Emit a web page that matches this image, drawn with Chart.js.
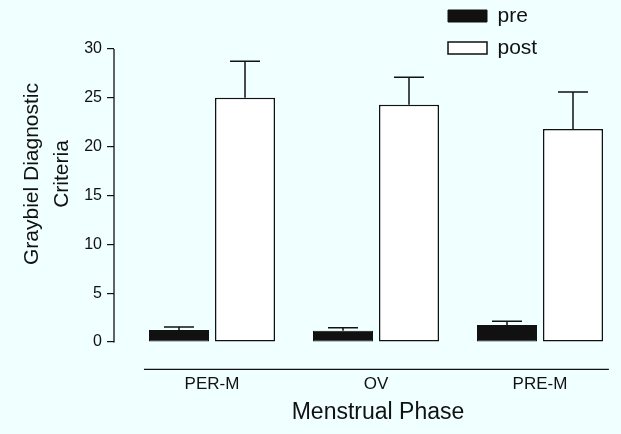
<!DOCTYPE html>
<html>
<head>
<meta charset="utf-8">
<script src="https://cdn.jsdelivr.net/npm/chart.js@4.4.1/dist/chart.umd.min.js"></script>
<style>
  html, body { margin: 0; padding: 0; background: #f0ffff; overflow: hidden; }
  /* canvas runs 21px past the window so the x title centres like the original */
  #wrap { width: 642px; height: 434px; }
</style>
</head>
<body>
<div id="wrap"><canvas id="barChart"></canvas></div>
<script>
// data
const phases = ['PER-M', 'OV', 'PRE-M'];
const preMeans = [1.23, 1.16, 1.74];
const preErr = [0.31, 0.30, 0.38];
const postMeans = [25.0, 24.3, 21.8];
const postErr = [3.75, 2.8, 3.8];
const yTicks = [0, 5, 10, 15, 20, 25, 30];

const ink = '#111111';
const FONT = "'Liberation Sans', Arial, sans-serif";

// page background (scan tint)
const background = {
    id: 'background',
    beforeDraw(chart) {
        const ctx = chart.ctx;
        ctx.save();
        ctx.fillStyle = '#f0ffff';
        ctx.fillRect(0, 0, chart.width, chart.height);
        ctx.restore();
    }
};

// upward error bars with caps
const errorBars = {
    id: 'errorBars',
    afterDatasetsDraw(chart) {
        const ctx = chart.ctx;
        const yScale = chart.scales.y;
        ctx.save();
        ctx.strokeStyle = ink;
        ctx.lineWidth = 1.5;
        chart.data.datasets.forEach((ds, d) => {
            chart.getDatasetMeta(d).data.forEach((bar, i) => {
                const mean = ds.data[i].y;
                const y0 = yScale.getPixelForValue(mean);
                const y1 = yScale.getPixelForValue(mean + ds.errors[i]);
                ctx.beginPath();
                ctx.moveTo(bar.x, y0);
                ctx.lineTo(bar.x, y1);
                ctx.moveTo(bar.x - 15, y1);
                ctx.lineTo(bar.x + 15, y1);
                ctx.stroke();
            });
        });
        ctx.restore();
    }
};

// y axis line only from 0 to 30, detached x axis line below the bars
const axisLines = {
    id: 'axisLines',
    afterDraw(chart) {
        const ctx = chart.ctx;
        const x = chart.scales.x, y = chart.scales.y;
        const area = chart.chartArea;
        ctx.save();
        ctx.strokeStyle = ink;
        ctx.lineWidth = 1.3;
        ctx.beginPath();
        ctx.moveTo(area.left, y.getPixelForValue(0) + 0.5);
        ctx.lineTo(area.left, y.getPixelForValue(yTicks[yTicks.length - 1]));
        const base = y.getPixelForValue(-2.8);
        ctx.moveTo(x.getPixelForValue(-0.415), base);
        ctx.lineTo(x.getPixelForValue(2.42), base);
        ctx.stroke();
        ctx.restore();
    }
};

// stacked legend in the top right corner
const legendSpot = {
    id: 'legendSpot',
    afterLayout(chart) {
        const lg = chart.legend;
        lg.left = 437; lg.right = 621;
        lg.top = -5.5; lg.bottom = 90;
        lg.width = lg.right - lg.left;
        lg.height = lg.bottom - lg.top;
    }
};

new Chart(document.getElementById('barChart'), {
    type: 'bar',
    data: {
        datasets: [
            {
                label: 'pre',
                data: phases.map((p, i) => ({ x: i, y: preMeans[i] })),
                errors: preErr,
                backgroundColor: ink,
                borderColor: ink,
                borderWidth: 1,
                borderSkipped: false
            },
            {
                label: 'post',
                data: phases.map((p, i) => ({ x: i, y: postMeans[i] })),
                errors: postErr,
                backgroundColor: '#ffffff',
                borderColor: ink,
                borderWidth: 1.5,
                borderSkipped: false
            }
        ]
    },
    options: {
        responsive: true,
        maintainAspectRatio: false,
        animation: false,
        categoryPercentage: 0.805,
        barPercentage: 0.909,
        layout: { padding: { top: 6, left: 0, right: 0, bottom: 0 } },
        plugins: {
            tooltip: { enabled: false },
            legend: {
                position: 'chartArea',
                align: 'start',
                labels: {
                    font: { family: FONT, size: 21 },
                    color: ink,
                    boxWidth: 39,
                    boxHeight: 12,
                    padding: 11
                }
            }
        },
        scales: {
            x: {
                type: 'linear',
                offset: false,
                min: -0.5976,
                max: 2.622,
                grid: { display: false, drawTicks: false, offset: false },
                border: { display: false },
                afterBuildTicks: s => { s.ticks = phases.map((p, i) => ({ value: i })); },
                afterFit: s => { s.height = 92; s.paddingLeft = 0; s.paddingRight = 0; },
                ticks: {
                    autoSkip: false,
                    maxRotation: 0,
                    padding: 32,
                    color: ink,
                    font: { family: FONT, size: 17 },
                    callback: v => phases[v]
                },
                title: {
                    display: true,
                    text: 'Menstrual Phase',
                    color: ink,
                    font: { family: FONT, size: 23 },
                    padding: { top: 0, bottom: 8 }
                }
            },
            y: {
                min: 0,
                max: 34.4,
                grid: { drawOnChartArea: false, drawTicks: true, tickLength: 7, color: ink, lineWidth: 1.2 },
                border: { display: false },
                afterBuildTicks: s => { s.ticks = yTicks.map(v => ({ value: v })); },
                afterFit: s => { s.width = 114; s.paddingTop = 0; s.paddingBottom = 0; },
                ticks: {
                    padding: 5,
                    color: ink,
                    font: { family: FONT, size: 16 }
                },
                title: {
                    display: true,
                    text: ['Graybiel Diagnostic', 'Criteria'],
                    color: ink,
                    font: { family: FONT, size: 21, lineHeight: 1.45 },
                    padding: { top: 17, bottom: 0 }
                }
            }
        }
    },
    plugins: [background, errorBars, axisLines, legendSpot]
});
</script>
</body>
</html>
